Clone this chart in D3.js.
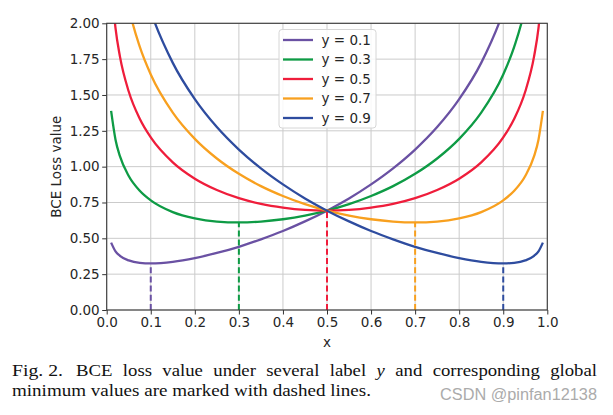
<!DOCTYPE html>
<html>
<head>
<meta charset="utf-8">
<script src="https://cdn.jsdelivr.net/npm/d3@7"></script>
<style>
  html, body { margin: 0; padding: 0; background: #fff; }
  svg { display: block; }
</style>
</head>
<body>
<svg id="chart" width="613" height="415"></svg>
<script>
// ---- data ----
const xs = [0.01,0.02,0.03,0.05,0.075,0.1,0.15,0.2,0.25,0.3,0.35,0.4,0.45,0.5,0.55,0.6,0.65,0.7,0.75,0.8,0.85,0.9,0.925,0.95,0.97,0.98,0.99];
const labels = ["y = 0.1","y = 0.3","y = 0.5","y = 0.7","y = 0.9"];
const labelValues = [0.1, 0.3, 0.5, 0.7, 0.9];
const loss01 = [0.470,0.409,0.378,0.346,0.329,0.325,0.336,0.362,0.398,0.441,0.493,0.551,0.618,0.693,0.778,0.876,0.988,1.119,1.276,1.471,1.724,2.083,2.339,2.701,3.159,3.523,4.146];
const loss03 = [1.389,1.188,1.073,0.935,0.832,0.765,0.683,0.639,0.617,0.611,0.617,0.633,0.658,0.693,0.738,0.795,0.864,0.950,1.057,1.194,1.377,1.643,1.837,2.112,2.464,2.744,3.227];
const loss05 = [2.308,1.966,1.769,1.524,1.334,1.204,1.030,0.916,0.837,0.780,0.740,0.714,0.698,0.693,0.698,0.714,0.740,0.780,0.837,0.916,1.030,1.204,1.334,1.524,1.769,1.966,2.308];
const loss07 = [3.227,2.744,2.464,2.112,1.837,1.643,1.377,1.194,1.057,0.950,0.864,0.795,0.738,0.693,0.658,0.633,0.617,0.611,0.617,0.639,0.683,0.765,0.832,0.935,1.073,1.188,1.389];
const loss09 = [4.146,3.523,3.159,2.701,2.339,2.083,1.724,1.471,1.276,1.119,0.988,0.876,0.778,0.693,0.618,0.551,0.493,0.441,0.398,0.362,0.336,0.325,0.329,0.346,0.378,0.409,0.470];
const minima = [0.325, 0.611, 0.693, 0.611, 0.325];
const xTicks = [0,0.1,0.2,0.3,0.4,0.5,0.6,0.7,0.8,0.9,1.0];
const yTicks = [0,0.25,0.5,0.75,1.0,1.25,1.5,1.75,2.0];
const colors = ["#6a51a3","#0e9b45","#ef1d3b","#f8a01f","#2e4c9f"];

const seriesList = [loss01, loss03, loss05, loss07, loss09];

// ---- layout ----
const svg = d3.select("#chart");
const L = 106.7, R = 547.3, T = 23.3, B = 310;
const x = d3.scaleLinear().domain([0, 1]).range([L, R]);
const y = d3.scaleLinear().domain([0, 2]).range([B, T]);

svg.append("defs").append("clipPath").attr("id", "plotclip")
  .append("rect").attr("x", L).attr("y", T).attr("width", R - L).attr("height", B - T);

// grid
const grid = svg.append("g");
grid.selectAll("line.gx").data(xTicks).join("line")
  .attr("x1", d => x(d)).attr("x2", d => x(d)).attr("y1", T).attr("y2", B)
  .attr("stroke", "#cbcbcb").attr("stroke-width", 1);
grid.selectAll("line.gy").data(yTicks).join("line")
  .attr("y1", d => y(d)).attr("y2", d => y(d)).attr("x1", L).attr("x2", R)
  .attr("stroke", "#cbcbcb").attr("stroke-width", 1);

// curves
const line = d3.line().x((d, i) => x(xs[i])).y(d => y(d)).curve(d3.curveMonotoneX);
const curves = svg.append("g").attr("clip-path", "url(#plotclip)");
seriesList.forEach((s, k) => {
  curves.append("path").attr("d", line(s))
    .attr("fill", "none").attr("stroke", colors[k]).attr("stroke-width", 2.3)
    .attr("stroke-linejoin", "round");
});

// dashed minimum markers
svg.append("g").selectAll("line").data(labelValues).join("line")
  .attr("x1", d => x(d)).attr("x2", d => x(d))
  .attr("y1", y(0)).attr("y2", (d, i) => y(minima[i]))
  .attr("stroke", (d, i) => colors[i]).attr("stroke-width", 2)
  .attr("stroke-dasharray", "6,3.2");

// axes
const fontTick = "13.5px 'DejaVu Sans', sans-serif";
const xAxis = svg.append("g").attr("transform", `translate(0,${B})`)
  .call(d3.axisBottom(x).tickValues(xTicks).tickFormat(d3.format(".1f")).tickSize(4.5).tickPadding(3).tickSizeOuter(0));
const yAxis = svg.append("g").attr("transform", `translate(${L},0)`)
  .call(d3.axisLeft(y).tickValues(yTicks).tickFormat(d3.format(".2f")).tickSize(4.5).tickPadding(2.5).tickSizeOuter(0));
[xAxis, yAxis].forEach(a => {
  a.select(".domain").remove();
  a.selectAll(".tick line").attr("stroke", "#333").attr("stroke-width", 1);
  a.selectAll(".tick text").style("font", fontTick).attr("fill", "#262626");
});

// frame
svg.append("rect").attr("x", L).attr("y", T).attr("width", R - L).attr("height", B - T)
  .attr("fill", "none").attr("stroke", "#3a3a3a").attr("stroke-width", 1.1);

// axis labels
svg.append("text").attr("x", (L + R) / 2).attr("y", 347)
  .attr("text-anchor", "middle").style("font", fontTick).attr("fill", "#262626").text("x");
svg.append("text").attr("transform", `translate(60.5,${(T + B) / 2}) rotate(-90)`)
  .attr("text-anchor", "middle").style("font", fontTick).attr("fill", "#262626").text("BCE Loss value");

// legend
const lg = svg.append("g");
lg.append("rect").attr("x", 279).attr("y", 29.5).attr("width", 97).attr("height", 98.5).attr("rx", 3)
  .attr("fill", "white").attr("fill-opacity", 0.85).attr("stroke", "#d6d6d6").attr("stroke-width", 1);
labels.forEach((t, i) => {
  const yy = 40 + i * 19.5;
  lg.append("line").attr("x1", 283).attr("x2", 313).attr("y1", yy).attr("y2", yy)
    .attr("stroke", colors[i]).attr("stroke-width", 2.3);
  lg.append("text").attr("x", 321.5).attr("y", yy).attr("dy", "0.35em")
    .style("font", fontTick).attr("fill", "#262626").text(t);
});

// caption
const capFont = "17.5px 'Liberation Serif', 'Times New Roman', serif";
const cap = svg.append("g");
cap.append("text").attr("x", 12).attr("y", 376).style("font", capFont).attr("fill", "#111")
  .attr("textLength", 51).attr("lengthAdjust", "spacingAndGlyphs").text("Fig. 2.");
const words = ["BCE","loss","value","under","several","label","y","and","corresponding","global"];
const wEls = words.map(w => cap.append("text").attr("y", 376).style("font", capFont)
  .style("font-style", w === "y" ? "italic" : "normal").attr("fill", "#111").text(w));
const sx = 1.07;
const widths = wEls.map(e => e.node().getComputedTextLength() * sx);
const X0 = 76, X1 = 597;
const gap = (X1 - X0 - d3.sum(widths)) / (words.length - 1);
let cx = X0;
wEls.forEach((e, i) => {
  e.attr("x", cx).attr("textLength", widths[i]).attr("lengthAdjust", "spacingAndGlyphs");
  cx += widths[i] + gap;
});
cap.append("text").attr("x", 12).attr("y", 395.5).style("font", capFont).attr("fill", "#111")
  .attr("textLength", 359).attr("lengthAdjust", "spacingAndGlyphs")
  .text("minimum values are marked with dashed lines.");
cap.append("text").attr("x", 440).attr("y", 400).style("font", "16px 'Liberation Sans', Arial, sans-serif")
  .attr("fill", "#ababab").attr("textLength", 157).attr("lengthAdjust", "spacingAndGlyphs")
  .text("CSDN @pinfan12138");
</script>
</body>
</html>
